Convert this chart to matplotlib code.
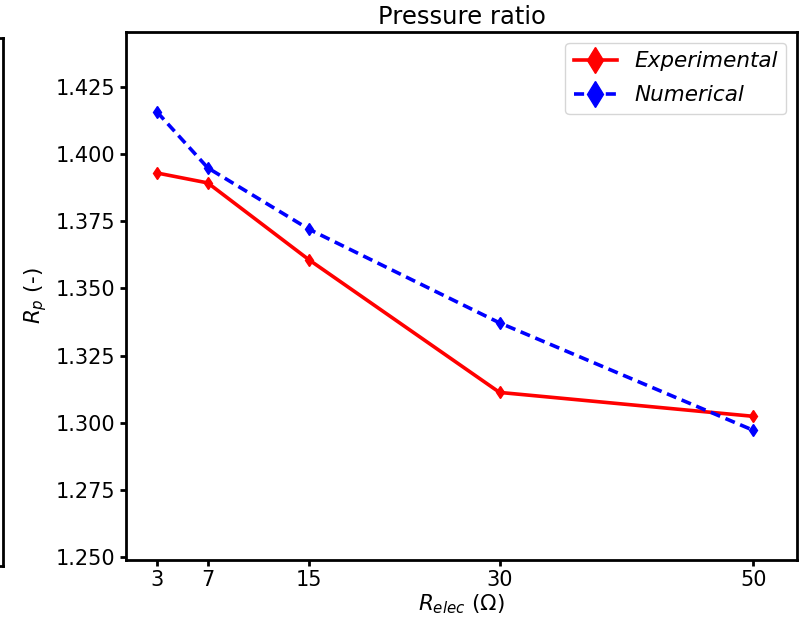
import matplotlib
matplotlib.use("Agg")
import matplotlib.pyplot as plt

resistance = [3, 7, 15, 30, 50]
experimental = [1.393, 1.3893, 1.3606, 1.3113, 1.3024]
numerical = [1.4157, 1.3949, 1.3720, 1.3372, 1.2972]
xtick_labels = ["3", "7", "15", "30", "50"]
ytick_values = [1.250, 1.275, 1.300, 1.325, 1.350, 1.375, 1.400, 1.425]

plt.rcParams['font.family'] = ['DejaVu Sans']
W, H = 810, 617
fig = plt.figure(figsize=(W/100, H/100), dpi=100)

# partial neighbouring subplot clipped at the left edge
axl = fig.add_axes([-0.5, 1 - 566/H, 0.5 + 3/W, (566 - 38)/H])
axl.set_xticks([]); axl.set_yticks([])
for s in axl.spines.values():
    s.set_linewidth(2)

ax = fig.add_axes([126/W, 1 - 560/H, (797 - 126)/W, (560 - 32)/H])
ax.plot(resistance, experimental, color='red', linestyle='-', linewidth=2.6,
        marker='d', markersize=6, label='Experimental')
ax.plot(resistance, numerical, color='blue', linestyle='--', linewidth=2.6,
        marker='d', markersize=6, dashes=(2.8, 1.6), label='Numerical')

ax.set_xlim(0.55, 53.45)
ax.set_ylim(1.2489, 1.4455)
ax.set_xticks(resistance)
ax.set_xticklabels(xtick_labels)
ax.set_yticks(ytick_values)
ax.set_yticklabels([f"{v:.3f}" for v in ytick_values])
ax.tick_params(axis='both', labelsize=15, length=4, width=2, direction='out')
for s in ax.spines.values():
    s.set_linewidth(2)

ax.set_title("Pressure ratio", fontsize=17.5)
ax.set_xlabel(r"$R_{elec}$ ($\Omega$)", fontsize=15.5, labelpad=1.5)
ax.set_ylabel(r"$R_p$ (-)", fontsize=15.5, labelpad=5)
leg = ax.legend(loc='upper right', markerscale=2.2, labelspacing=0.65,
                prop={'style': 'italic', 'size': 15.5})

fig.savefig("out.png", dpi=100)
